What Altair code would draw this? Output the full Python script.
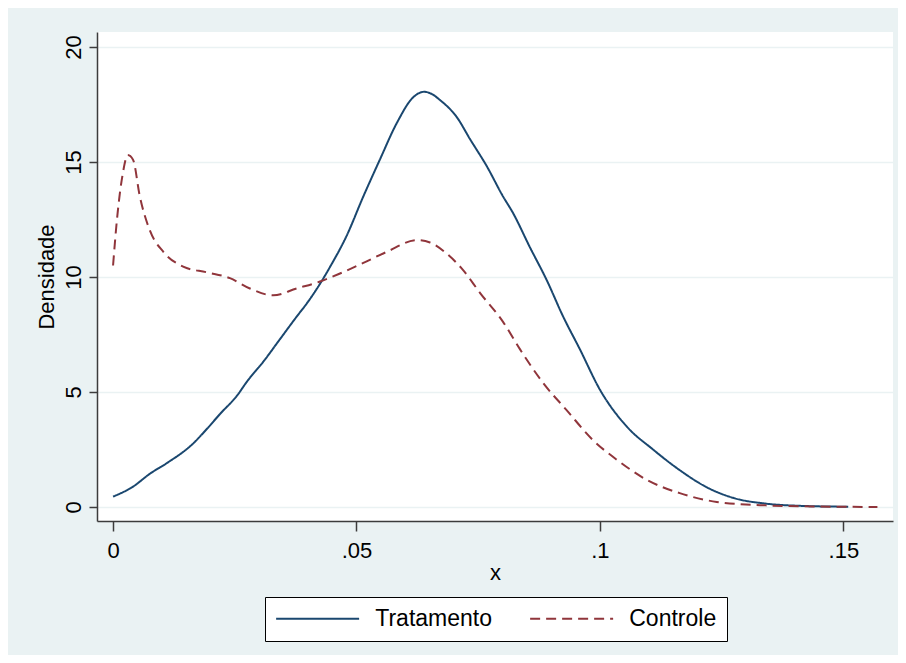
import altair as alt
import pandas as pd

# Kernel density estimates
trat_x = [0.000, 0.004, 0.0076, 0.011, 0.0164, 0.0193, 0.022, 0.0255, 0.0275, 0.0308,
          0.0343, 0.0378, 0.0398, 0.0425, 0.0446, 0.048, 0.0513, 0.0548, 0.0583,
          0.0616, 0.0639, 0.0655, 0.0671, 0.0706, 0.0733, 0.0768, 0.0801, 0.0821, 0.0856,
          0.0891, 0.0924, 0.0959, 0.1000, 0.1055, 0.1109, 0.1164, 0.122, 0.1273, 0.1343,
          0.141, 0.151]
trat_y = [0.45, 0.87, 1.45, 1.9, 2.75, 3.4, 4.05, 4.85, 5.45, 6.3,
          7.3, 8.3, 8.85, 9.7, 10.45, 11.8, 13.45, 15.1, 16.7,
          17.8, 18.05, 17.95, 17.7, 16.95, 16.0, 14.8, 13.5, 12.8, 11.3,
          9.85, 8.3, 6.85, 5.1, 3.5, 2.5, 1.6, 0.85, 0.4, 0.14,
          0.05, 0.01]

ctrl_x = [0.000, 0.0008, 0.002, 0.003, 0.0041, 0.0055, 0.0076, 0.0103, 0.0144, 0.0193,
          0.024, 0.0281, 0.0329, 0.0377, 0.0425, 0.0466, 0.0513, 0.0563, 0.0624, 0.0651,
          0.0686, 0.0719, 0.0754, 0.0801, 0.0836, 0.0883, 0.0932, 0.0986, 0.1035, 0.1097,
          0.1164, 0.124, 0.134, 0.145, 0.157]
ctrl_y = [10.5, 12.5, 14.5, 15.3, 15.1, 13.5, 12.0, 11.1, 10.45, 10.2,
          9.95, 9.5, 9.2, 9.5, 9.8, 10.15, 10.6, 11.1, 11.6, 11.5,
          11.0, 10.3, 9.3, 8.05, 6.85, 5.4, 4.2, 2.9, 2.05, 1.17,
          0.6, 0.22, 0.07, 0.02, 0.0]

series = ["Tratamento", "Controle"]
colors = ["#1a476f", "#90353b"]
dashes = [[1, 0], [10, 6]]
x_ticks = [0, 0.05, 0.1, 0.15]
y_ticks = [0, 5, 10, 15, 20]

df = pd.concat([
    pd.DataFrame({"x": trat_x, "y": trat_y, "grupo": series[0], "ordem": range(len(trat_x))}),
    pd.DataFrame({"x": ctrl_x, "y": ctrl_y, "grupo": series[1], "ordem": range(len(ctrl_x))}),
], ignore_index=True)

FONT = "Liberation Sans"

# long horizontal line symbol: path scaled by sqrt(size)/2 -> r
R = 83 / 8.0
legend = alt.Legend(
    title=None, orient="none", legendX=168, legendY=565, direction="horizontal",
    symbolType="M-1,0H7", symbolSize=(2 * R) ** 2, symbolStrokeWidth=2,
    labelFontSize=23, labelFont=FONT, labelColor="black", labelOffset=6 * R + 15,
    columnPadding=33, padding=10, strokeColor="black", fillColor="white",
    cornerRadius=0,
)

chart = alt.Chart(df).mark_line(strokeWidth=2, interpolate="monotone").encode(
    x=alt.X("x:Q",
            scale=alt.Scale(domain=[-0.0033, 0.1602], nice=False, zero=False),
            axis=alt.Axis(values=x_ticks, title="x", grid=False, tickSize=10,
                          labelPadding=9, titlePadding=1,
                          labelExpr="datum.value == 0 ? '0' : replace(format(datum.value, '~g'), '0.', '.')")),
    y=alt.Y("y:Q",
            scale=alt.Scale(domain=[-0.61, 20.65], nice=False, zero=False),
            axis=alt.Axis(values=y_ticks, title="Densidade", grid=True, tickSize=8,
                          labelAngle=270, labelPadding=4, titlePadding=4)),
    color=alt.Color("grupo:N", scale=alt.Scale(domain=series, range=colors), legend=legend),
    strokeDash=alt.StrokeDash("grupo:N", scale=alt.Scale(domain=series, range=dashes), legend=legend),
    order=alt.Order("ordem:Q"),
).properties(
    width=796, height=489,
    autosize=alt.AutoSizeParams(type="none"),
    padding={"left": 89, "top": 24, "right": 5, "bottom": 134},
    background="#eaf2f3",
).configure_view(
    fill="white", stroke=None,
).configure_axis(
    domainColor="#3c3c3c", domainWidth=1.5, tickColor="#3c3c3c", tickWidth=1.5,
    labelFont=FONT, labelFontSize=22, labelColor="black",
    titleFont=FONT, titleFontSize=22, titleFontWeight="normal", titleColor="black",
    gridColor="#eaf2f3", gridWidth=1.5,
)

chart.save("out.html", embed_options={"renderer": "svg", "actions": False})
